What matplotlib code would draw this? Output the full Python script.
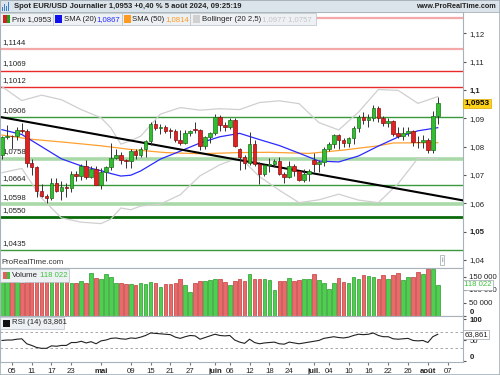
import matplotlib
matplotlib.use('agg')
import matplotlib.pyplot as plt
from matplotlib.patches import Rectangle

plt.rcParams['font.family'] = ['Liberation Sans', 'DejaVu Sans']

# trading-day index: 0 = Mon 1 Apr 2024, candles from 3 Apr (2) to 5 Aug (90)
idx = list(range(2, 91))
opens = [1.0770, 1.0835, 1.0837, 1.0837, 1.0860, 1.0856, 1.0742, 1.0727, 1.0642, 1.0624,
         1.0618, 1.0673, 1.0644, 1.0656, 1.0654, 1.0703, 1.0698, 1.0730, 1.0693, 1.0720,
         1.0666, 1.0712, 1.0727, 1.0760, 1.0770, 1.0753, 1.0749, 1.0783, 1.0771, 1.0790,
         1.0820, 1.0881, 1.0866, 1.0870, 1.0857, 1.0856, 1.0822, 1.0813, 1.0847, 1.0862,
         1.0858, 1.0802, 1.0833, 1.0848, 1.0905, 1.0876, 1.0868, 1.0893, 1.0790, 1.0765,
         1.0742, 1.0811, 1.0738, 1.0703, 1.0736, 1.0740, 1.0749, 1.0702, 1.0692, 1.0733,
         1.0715, 1.0683, 1.0702, 1.0752, 1.0740, 1.0744, 1.0790, 1.0810, 1.0841, 1.0825,
         1.0814, 1.0830, 1.0866, 1.0906, 1.0893, 1.0901, 1.0937, 1.0900, 1.0884, 1.0892,
         1.0850, 1.0838, 1.0849, 1.0857, 1.0818, 1.0816, 1.0825, 1.0789, 1.0910]
highs = [1.0838, 1.0876, 1.0842, 1.0868, 1.0885, 1.0864, 1.0755, 1.0730, 1.0669, 1.0632,
         1.0690, 1.0690, 1.0678, 1.0673, 1.0714, 1.0715, 1.0740, 1.0752, 1.0733, 1.0730,
         1.0726, 1.0730, 1.0812, 1.0790, 1.0780, 1.0758, 1.0791, 1.0791, 1.0800, 1.0823,
         1.0887, 1.0895, 1.0880, 1.0878, 1.0866, 1.0861, 1.0858, 1.0859, 1.0860, 1.0888,
         1.0862, 1.0838, 1.0852, 1.0915, 1.0913, 1.0886, 1.0902, 1.0902, 1.0795, 1.0772,
         1.0852, 1.0823, 1.0744, 1.0740, 1.0761, 1.0757, 1.0762, 1.0711, 1.0748, 1.0740,
         1.0717, 1.0720, 1.0720, 1.0776, 1.0754, 1.0799, 1.0816, 1.0845, 1.0845, 1.0829,
         1.0834, 1.0872, 1.0911, 1.0922, 1.0914, 1.0948, 1.0945, 1.0909, 1.0903, 1.0895,
         1.0869, 1.0869, 1.0870, 1.0858, 1.0838, 1.0840, 1.0831, 1.0926, 1.0976]
lows = [1.0757, 1.0826, 1.0792, 1.0822, 1.0849, 1.0728, 1.0700, 1.0623, 1.0622, 1.0601,
        1.0613, 1.0640, 1.0610, 1.0623, 1.0640, 1.0677, 1.0681, 1.0685, 1.0690, 1.0667,
        1.0650, 1.0678, 1.0717, 1.0755, 1.0737, 1.0724, 1.0725, 1.0757, 1.0762, 1.0765,
        1.0806, 1.0858, 1.0845, 1.0848, 1.0830, 1.0818, 1.0805, 1.0808, 1.0838, 1.0850,
        1.0788, 1.0793, 1.0812, 1.0840, 1.0855, 1.0854, 1.0862, 1.0797, 1.0719, 1.0720,
        1.0735, 1.0732, 1.0668, 1.0698, 1.0712, 1.0728, 1.0699, 1.0672, 1.0688, 1.0695,
        1.0677, 1.0676, 1.0680, 1.0709, 1.0711, 1.0733, 1.0785, 1.0796, 1.0790, 1.0799,
        1.0799, 1.0811, 1.0853, 1.0880, 1.0868, 1.0891, 1.0887, 1.0873, 1.0868, 1.0836,
        1.0832, 1.0825, 1.0837, 1.0804, 1.0795, 1.0794, 1.0777, 1.0779, 1.0880]
closes = [1.0835, 1.0837, 1.0836, 1.0860, 1.0856, 1.0742, 1.0727, 1.0642, 1.0624, 1.0618,
          1.0673, 1.0644, 1.0656, 1.0654, 1.0703, 1.0698, 1.0730, 1.0693, 1.0720, 1.0666,
          1.0712, 1.0727, 1.0760, 1.0770, 1.0753, 1.0749, 1.0783, 1.0771, 1.0790, 1.0820,
          1.0881, 1.0866, 1.0870, 1.0857, 1.0856, 1.0822, 1.0813, 1.0847, 1.0857, 1.0858,
          1.0802, 1.0833, 1.0848, 1.0905, 1.0876, 1.0868, 1.0893, 1.0801, 1.0765, 1.0742,
          1.0811, 1.0738, 1.0703, 1.0736, 1.0740, 1.0749, 1.0702, 1.0692, 1.0733, 1.0715,
          1.0683, 1.0702, 1.0713, 1.0740, 1.0744, 1.0790, 1.0810, 1.0841, 1.0825, 1.0814,
          1.0830, 1.0866, 1.0906, 1.0893, 1.0901, 1.0937, 1.0900, 1.0884, 1.0892, 1.0845,
          1.0838, 1.0849, 1.0857, 1.0818, 1.0816, 1.0825, 1.0789, 1.0910, 1.0953]
volumes = [132, 131, 132, 135, 126, 138, 138, 138, 138, 138, 138, 139, 138, 132, 126, 126,
           132, 126, 164, 145, 139, 158, 150, 126, 126, 120, 120, 116, 126, 120, 128, 126,
           110, 120, 120, 124, 139, 119, 93, 126, 132, 132, 135, 141, 141, 131, 116, 132,
           139, 132, 158, 139, 141, 141, 135, 97, 132, 132, 145, 132, 135, 139, 139, 158,
           138, 126, 101, 126, 145, 128, 126, 147, 139, 154, 152, 150, 141, 154, 139, 154,
           164, 135, 150, 147, 167, 160, 177, 177, 118]
rsi = [49, 50, 50, 52, 53, 41, 37, 32, 30, 30, 36, 35, 37, 37, 44, 44, 47, 43, 46, 41,
       48, 50, 54, 55, 53, 52, 55, 54, 57, 61, 67, 66, 65, 64, 63, 57, 54, 58, 61, 60,
       52, 56, 60, 64, 61, 60, 61, 50, 45, 42, 52, 44, 41, 43, 44, 45, 41, 40, 45, 43,
       41, 43, 45, 47, 49, 54, 56, 58, 56, 55, 57, 61, 64, 63, 64, 67, 61, 58, 58, 53,
       52, 53, 54, 49, 48, 49, 44, 58, 63.9]

# SMA(20) and Bollinger(20, 2.5), read at sample candles
band_idx = [2, 6, 10, 14, 18, 22, 24, 26, 28, 30, 34, 38, 42, 46, 50, 54, 58, 62, 66,
            70, 74, 78, 82, 86, 90]
sma20 = [1.0860, 1.0843, 1.0800, 1.0757, 1.0732, 1.0715, 1.0705, 1.0696, 1.0699, 1.0714,
         1.0756, 1.0784, 1.0813, 1.0835, 1.0847, 1.0825, 1.0804, 1.0777, 1.0749, 1.0746,
         1.0767, 1.0802, 1.0834, 1.0856, 1.0867]
boll_up = [1.1012, 1.0963, 1.0982, 1.0966, 1.0931, 1.0902, 1.0866, 1.0809, 1.0821, 1.0837,
           1.0915, 1.0938, 1.0929, 1.0934, 1.0931, 1.0956, 1.0962, 1.0952, 1.0885, 1.0859,
           1.0922, 1.1002, 1.0999, 1.0953, 1.0977]
boll_low = [1.0708, 1.0723, 1.0618, 1.0548, 1.0533, 1.0528, 1.0544, 1.0583, 1.0577, 1.0590,
            1.0597, 1.0630, 1.0697, 1.0736, 1.0763, 1.0694, 1.0646, 1.0602, 1.0612, 1.0632,
            1.0611, 1.0602, 1.0669, 1.0759, 1.0757]
sma50_idx = [2, 8, 15, 22, 28, 35, 42, 50, 56, 64, 71, 78, 81, 90]
sma50 = [1.0841, 1.0826, 1.0815, 1.0803, 1.0790, 1.0779, 1.0775, 1.0779, 1.0780, 1.0776,
         1.0788, 1.0803, 1.0813, 1.0814]

# support / resistance levels and trend line
levels = [1.1255, 1.1144, 1.1069, 1.1012, 1.0906, 1.0758, 1.0664, 1.0598, 1.0550, 1.0435]
level_labels = ['', '1,1144', '1,1069', '1,1012', '1,0906', '1,0758', '1,0664', '1,0598', '1,0550', '1,0435']
level_colors = ['#f5a8a8', '#f5a8a8', '#e82a2a', '#e82a2a', '#3a9a3a', '#a9d9a9', '#3a9a3a', '#a9d9a9', '#0b6b0b', '#3a9a3a']
level_widths = [1.6, 1.6, 1.0, 1.0, 1.0, 2.6, 1.0, 2.6, 2.0, 1.0]
trend_idx = [1.6, 95.1]
trend_val = [1.0905, 1.0610]

price_ticks = [1.04, 1.05, 1.06, 1.07, 1.08, 1.09, 1.10, 1.11, 1.12]
price_labels = ['1,04', '1,05', '1,06', '1,07', '1,08', '1,09', '1,1', '1,11', '1,12']
date_ticks = [4, 8, 12, 16, 22, 28, 32, 36, 40, 45, 48, 52, 56, 60, 65, 68, 72, 76, 80, 84, 88, 92]
date_labels = ['05', '11', '17', '23', 'mai', '09', '15', '21', '27', 'juin', '06', '12',
               '18', '24', 'juil.', '04', '10', '16', '22', '26', 'août', '07']
months = ['mai', 'juin', 'juil.', 'août']

W, H = 500, 375
def fx(x):
    return x / W
def fy(y):
    return 1 - y / H

FS = 5.6
fig = plt.figure(figsize=(5, 3.75), dpi=100)
fig.patch.set_facecolor('white')
XMIN, XMAX = 1.6, 95.1
edge = '#a8b2ba'

ax = fig.add_axes([0, fy(268), fx(463), (268 - 12) / H])
axv = fig.add_axes([0, fy(316), fx(463), (316 - 268) / H], sharex=ax)
axr = fig.add_axes([0, fy(362), fx(463), (362 - 316) / H], sharex=ax)

for a in (ax, axv, axr):
    for s in a.spines.values():
        s.set_color(edge)
        s.set_linewidth(0.8)
    a.yaxis.tick_right()
    a.tick_params(axis='y', labelsize=FS, length=2.5, pad=2, color='#555555', labelcolor='#222222')
    a.tick_params(axis='x', length=0)
    a.set_xlim(XMIN, XMAX)

# ---- price panel
ax.set_ylim(1.0371, 1.1276)
for lv, lc, lw, lab in zip(levels, level_colors, level_widths, level_labels):
    ax.axhline(lv, color=lc, lw=lw, zorder=1)
    if lab:
        ax.text(XMIN + 0.5, lv + 0.0011, lab, fontsize=FS, color='#222222', va='bottom', ha='left', zorder=5)

ax.plot(band_idx, boll_up, color='#cfcfcf', lw=0.9, zorder=2)
ax.plot(band_idx, boll_low, color='#cfcfcf', lw=0.9, zorder=2)
ax.plot(sma50_idx, sma50, color='#ffa030', lw=0.9, zorder=2)
ax.plot(band_idx, sma20, color='#2a2aff', lw=0.9, zorder=2)
ax.plot(trend_idx, trend_val, color='black', lw=1.5, zorder=3)

up = [c >= o for o, c in zip(opens, closes)]
ax.vlines(idx, lows, highs, color='#333333', lw=0.7, zorder=4)
body_bot = [min(o, c) for o, c in zip(opens, closes)]
body_h = [max(abs(c - o), 0.00012) for o, c in zip(opens, closes)]
ax.bar(idx, body_h, bottom=body_bot, width=0.72,
       color=['#2fbf2f' if u else '#e02222' for u in up],
       edgecolor=['#1c6e1c' if u else '#8a1010' for u in up], linewidth=0.5, zorder=5)

ax.set_yticks(price_ticks, price_labels)
for t in ax.get_yticklabels():
    if t.get_text() in ('1,1', '1,05'):
        t.set_fontweight('bold')
ax.tick_params(axis='x', labelbottom=False)
ax.text(XMAX + 0.3, closes[-1], '1,0953', fontsize=FS + 0.3, fontweight='bold', va='center', ha='left',
        bbox=dict(boxstyle='square,pad=0.15', fc='#ffd21a', ec='#d9a800', lw=0.5), zorder=6, clip_on=False)
ax.text(XMIN + 0.3, 1.0378, 'ProRealTime.com', fontsize=FS, color='#333333', va='bottom')
ax.text(XMAX - 4.2, 1.0398, 'i', fontsize=5, color='#667788', va='center', ha='center',
        bbox=dict(boxstyle='square,pad=0.2', fc='white', ec='#99a4ae', lw=0.5))

# ---- volume panel
axv.set_ylim(0, 182500)
axv.bar(idx, [v * 1000 for v in volumes], width=0.72,
        color=['#4fcf4f' if u else '#e86a6a' for u in up],
        edgecolor=['#2a9a2a' if u else '#c23a3a' for u in up], linewidth=0.5)
axv.set_yticks([0, 50000, 100000, 150000], ['0', '50 000', '100 000', '150 000'])
zero_v = axv.get_yticklabels()[0]
zero_v.set_fontweight('bold')
zero_v.set_verticalalignment('bottom')
axv.tick_params(axis='x', labelbottom=False)
axv.text(XMAX + 0.3, volumes[-1] * 1000, '118 022', fontsize=FS, color='#3cc03c', va='center', ha='left',
         bbox=dict(boxstyle='square,pad=0.15', fc='white', ec='#9aa5ae', lw=0.5), zorder=6, clip_on=False)

# ---- RSI panel
axr.set_ylim(-3, 108)
axr.axhline(70, color='#999999', lw=0.6, ls=(0, (3, 3)))
axr.axhline(30, color='#999999', lw=0.6, ls=(0, (3, 3)))
axr.plot(idx, rsi, color='#222222', lw=0.8)
axr.set_yticks([0, 50, 100], ['0', '50', '100'])
for t in axr.get_yticklabels():
    if t.get_text() in ('0', '100'):
        t.set_fontweight('bold')
    if t.get_text() == '0':
        t.set_verticalalignment('bottom')
axr.text(XMAX + 0.3, rsi[-1], '63,861', fontsize=FS, color='#222222', va='center', ha='left',
         bbox=dict(boxstyle='square,pad=0.15', fc='white', ec='#9aa5ae', lw=0.5), zorder=6, clip_on=False)
axr.set_xticks(date_ticks, date_labels)
axr.tick_params(axis='x', labelsize=FS, length=2, pad=2, color='#777777', labelcolor='#222222')
for t in axr.get_xticklabels():
    if t.get_text() in months:
        t.set_fontweight('bold')

# ---- header bar
fig.patches.append(Rectangle((0, fy(12)), 1, 12 / H, transform=fig.transFigure,
                             fc='#dbe4ea', ec='#a8b2ba', lw=0.6, zorder=0))
for k, hh in enumerate([4, 7, 5, 9]):
    fig.patches.append(Rectangle((fx(2 + k * 2), fy(11)), fx(1.3), hh / H, transform=fig.transFigure,
                                 fc='#3a7fd0', ec='none'))
fig.text(fx(14), fy(6.3), 'Spot EUR/USD Journalier 1,0953 +0,40 % 5 août 2024, 09:25:19',
         fontsize=5.5, fontweight='bold', color='#222222', va='center')
fig.text(fx(496), fy(6.3), 'www.ProRealTime.com', fontsize=5.2, fontweight='bold', color='#222222',
         va='center', ha='right')

# ---- legend boxes
def legend_box(x0, x1, y0, y1):
    fig.patches.append(Rectangle((fx(x0), fy(y1)), fx(x1 - x0), (y1 - y0) / H, transform=fig.transFigure,
                                 fc='#eef1f3', ec='#b8c0c6', lw=0.5, zorder=3))
def swatch(x, y, c1, c2=None):
    fig.patches.append(Rectangle((fx(x), fy(y + 7)), fx(3.5 if c2 else 7), 7 / H, transform=fig.transFigure,
                                 fc=c1, ec='none', zorder=4))
    if c2:
        fig.patches.append(Rectangle((fx(x + 3.5), fy(y + 7)), fx(3.5), 7 / H, transform=fig.transFigure,
                                     fc=c2, ec='none', zorder=4))

legend_box(0, 53, 13, 25)
legend_box(53, 122, 13, 25)
legend_box(122, 190, 13, 25)
legend_box(190, 316, 13, 25)
swatch(3, 15.5, '#d02020', '#20a020')
fig.text(fx(12), fy(19.3), 'Prix 1,0953', fontsize=FS, color='#222222', va='center', zorder=5)
swatch(55, 15.5, '#1010ee')
fig.text(fx(63.5), fy(19.3), 'SMA (20)', fontsize=FS, color='#222222', va='center', zorder=5)
fig.text(fx(96), fy(19.3), '1,0867', fontsize=FS, color='#2a2aff', va='center', zorder=5)
swatch(124, 15.5, '#ff9a20')
fig.text(fx(132.5), fy(19.3), 'SMA (50)', fontsize=FS, color='#222222', va='center', zorder=5)
fig.text(fx(165), fy(19.3), '1,0814', fontsize=FS, color='#ff9a20', va='center', zorder=5)
swatch(193, 15.5, '#d0d0d0')
fig.text(fx(202), fy(19.3), 'Bollinger (20 2,5)', fontsize=FS, color='#222222', va='center', zorder=5)
fig.text(fx(262), fy(19.3), '1,0977 1,0757', fontsize=FS, color='#c4c4c4', va='center', zorder=5)

legend_box(0, 69, 269, 282)
swatch(3, 272, '#e06060', '#40c040')
fig.text(fx(12), fy(275.5), 'Volume', fontsize=FS, color='#222222', va='center', zorder=5)
fig.text(fx(40), fy(275.5), '118 022', fontsize=FS, color='#40c040', va='center', zorder=5)
legend_box(0, 64, 317, 329)
swatch(3, 319.5, '#111111')
fig.text(fx(12), fy(323), 'RSI (14) 63,861', fontsize=FS, color='#222222', va='center', zorder=5)

fig.patches.append(Rectangle((0, 0), 1, 1, transform=fig.transFigure, fc='none', ec='#a8b2ba', lw=1.2))

fig.savefig('out.png', dpi=100)
